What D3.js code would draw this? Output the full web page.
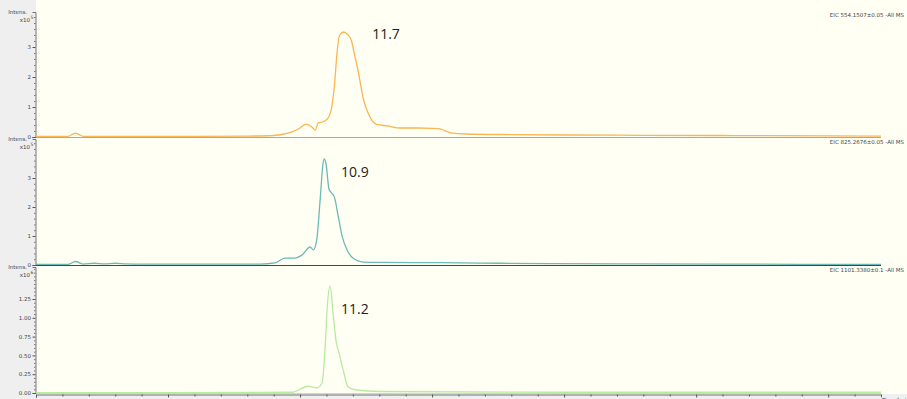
<!DOCTYPE html>
<html><head><meta charset="utf-8">
<script src="https://cdn.jsdelivr.net/npm/d3@7"></script>
<style>body{margin:0;background:#efefef;}svg{display:block;}</style>
</head><body>
<svg id="c" width="907" height="399"></svg>
<script>
// Data (time in minutes; intensity in units of the panel's exponent)
const topTime = [0,1.2,1.5,1.8,3,6,8,9,9.4,9.7,10.0,10.23,10.45,10.57,10.7,10.85,11.06,11.2,11.3,11.4,11.5,11.65,11.8,11.95,12.05,12.2,12.4,12.6,12.9,13.3,13.8,14.5,15.0,15.3,15.7,16.3,18,22,26,30,32];
const topValue = [0.02,0.02,0.13,0.02,0.02,0.02,0.03,0.05,0.1,0.17,0.3,0.43,0.33,0.23,0.48,0.5,0.63,1.0,1.7,2.8,3.4,3.5,3.42,3.2,2.8,2.2,1.25,0.75,0.42,0.37,0.3,0.3,0.29,0.27,0.14,0.1,0.08,0.06,0.05,0.04,0.03];
const midTime = [0,1.2,1.5,1.8,2.2,2.6,3.0,3.4,4,6,8.5,9.05,9.43,9.8,10.07,10.38,10.5,10.63,10.76,10.87,10.92,10.98,11.1,11.2,11.3,11.45,11.6,11.78,12.0,12.4,13.1,15.4,17.6,22,26,32];
const midValue = [0.02,0.02,0.12,0.03,0.06,0.04,0.06,0.04,0.03,0.03,0.03,0.07,0.24,0.24,0.34,0.62,0.52,0.86,2.24,3.5,3.66,3.5,2.6,2.48,2.34,1.66,0.97,0.52,0.24,0.1,0.09,0.08,0.06,0.04,0.03,0.02];
const botTime = [0,5,9.7,10.3,10.45,10.63,10.83,10.95,11.03,11.14,11.25,11.36,11.48,11.63,11.82,12.15,13,20,32];
const botValue = [0.005,0.005,0.01,0.09,0.08,0.07,0.13,0.61,1.14,1.42,1.06,0.7,0.53,0.31,0.08,0.04,0.02,0.01,0.01];

const legendLabels = ["EIC 554.1507±0.05 -All MS","EIC 825.2676±0.05 -All MS","EIC 1101.3380±0.1 -All MS"];
const peakLabels = ["11.7","10.9","11.2"];
const peakLabelTimes = [12.73, 11.55, 11.55];
const exponents = ["5","5","6"];
const topTicks = [0,1,2,3];
const midTicks = [0,1,2,3];
const botTicks = [0,0.25,0.5,0.75,1.0,1.25];
const xTicks = [0,5,10,15,20,25,30];

const svg = d3.select("#c");
const W = 907, H = 399;
const x = d3.scaleLinear().domain([0,32]).range([36,881]);

svg.append("rect").attr("x",0).attr("y",0).attr("width",W).attr("height",H).attr("fill","#efefef");
svg.append("rect").attr("x",36).attr("y",0).attr("width",W-36).attr("height",394).attr("fill","#fffff4");

const panels = [
  {time: topTime, value: topValue, top: 12, base: 137, max: 125/30, ticks: topTicks, fmt: d=>d3.format("d")(d), color:"#fbb552", baseColor:"#a9a6b4", minor:0.2, labelY:39},
  {time: midTime, value: midValue, top: 139, base: 265, max: 126/29, ticks: midTicks, fmt: d=>d3.format("d")(d), color:"#6bbab5", baseColor:"#2f4f4f", minor:0.2, labelY:177},
  {time: botTime, value: botValue, top: 267, base: 393, max: 126/75.2, ticks: botTicks, fmt: d=>d3.format(".2f")(d), color:"#b6eba0", baseColor:"#b6eba0", minor:0.05, labelY:314}
];

const tickFont = "DejaVu Sans, sans-serif";

panels.forEach((p,i)=>{
  const y = d3.scaleLinear().domain([0,p.max]).range([p.base,p.top]);
  svg.append("line").attr("x1",36).attr("x2",881).attr("y1",p.base+0.5).attr("y2",p.base+0.5)
     .attr("stroke",p.baseColor).attr("stroke-width",1.2);
  const ax = d3.axisLeft(y).tickValues(p.ticks).tickFormat(p.fmt).tickSize(3);
  const g = svg.append("g").attr("transform","translate(35.5,0)").call(ax);
  g.select(".domain").attr("stroke","#555").attr("stroke-width",0.8);
  g.selectAll(".tick line").attr("stroke","#555");
  g.selectAll("text").attr("font-size",5.5).attr("font-family",tickFont).attr("fill","#444").attr("dx",1.5);
  const minorTicks = d3.range(0,p.max,p.minor).filter(v=>!p.ticks.some(t=>Math.abs(t-v)<1e-6));
  svg.append("g").attr("transform","translate(35.5,0)").call(d3.axisLeft(y).tickValues(minorTicks).tickFormat("").tickSize(1.5))
     .call(s=>{s.select(".domain").remove(); s.selectAll("line").attr("stroke","#777");});
  svg.append("text").attr("x",27).attr("y",p.top+2).attr("text-anchor","end").attr("font-size",5.5)
     .attr("font-family",tickFont).attr("fill","#444").text("Intens.");
  svg.append("text").attr("x",30).attr("y",p.top+10).attr("text-anchor","end").attr("font-size",5.5)
     .attr("font-family",tickFont).attr("fill","#444").text("x10");
  svg.append("text").attr("x",30.5).attr("y",p.top+7).attr("font-size",4.5).attr("font-family",tickFont).attr("fill","#444").text(exponents[i]);
  svg.append("text").attr("x",904).attr("y",p.top+5).attr("text-anchor","end").attr("font-size",5.5)
     .attr("font-family",tickFont).attr("fill","#444").text(legendLabels[i]);
  const data = p.time.map((d,k)=>[d,p.value[k]]);
  svg.append("path").datum(data).attr("fill","none").attr("stroke",p.color).attr("stroke-width",1.3)
     .attr("d", d3.line().x(d=>x(d[0])).y(d=>y(d[1])).curve(d3.curveMonotoneX));
  svg.append("text").attr("x",x(peakLabelTimes[i])).attr("y",p.labelY).attr("font-size",14)
     .attr("font-family","Open Sans, sans-serif").attr("fill","#222").text(peakLabels[i]);
});

const xa = svg.append("g").attr("transform","translate(0,394.5)")
  .call(d3.axisBottom(x).tickValues(xTicks).tickFormat(d3.format("d")).tickSize(3));
xa.select(".domain").attr("stroke","#555").attr("stroke-width",0.8);
xa.selectAll(".tick line").attr("stroke","#555");
xa.selectAll("text").attr("font-size",5.5).attr("font-family",tickFont).attr("fill","#444").attr("dy","0.5em");
svg.append("g").attr("transform","translate(0,394.5)")
  .call(d3.axisBottom(x).tickValues(d3.range(0,33,1).filter(v=>v%5!==0)).tickFormat("").tickSize(2))
  .call(s=>{s.select(".domain").remove(); s.selectAll("line").attr("stroke","#555");});
svg.append("text").attr("x",882).attr("y",402).attr("font-size",5.5).attr("font-family",tickFont).attr("fill","#444").text("Time [min]");
</script>
</body></html>
